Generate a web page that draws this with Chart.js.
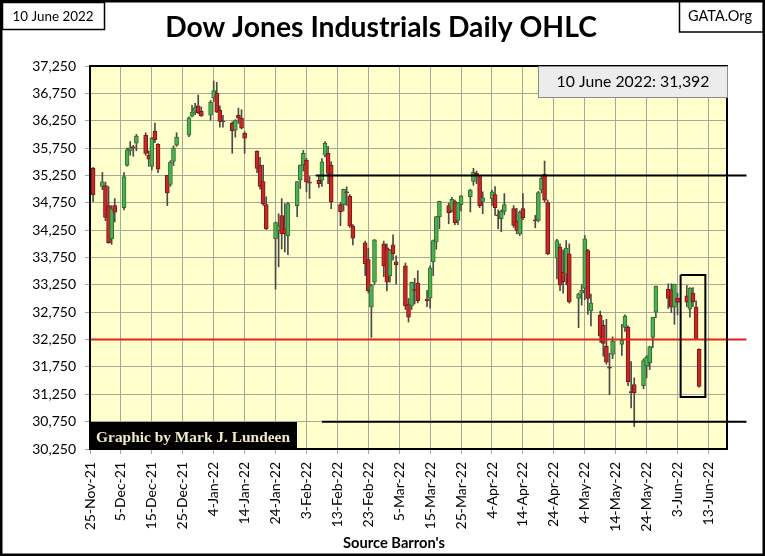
<!DOCTYPE html>
<html>
<head>
<meta charset="utf-8">
<script src="https://cdn.jsdelivr.net/npm/chart.js@4/dist/chart.umd.min.js"></script>
<style>
  html, body { margin: 0; padding: 0; background: #fff; }
</style>
</head>
<body>
<canvas id="myChart" width="765" height="556"></canvas>
<script>
// daily OHLC
const tradeDates = [
  "2021-11-26","2021-11-29","2021-11-30","2021-12-01","2021-12-02","2021-12-03",
  "2021-12-06","2021-12-07","2021-12-08","2021-12-09","2021-12-10",
  "2021-12-13","2021-12-14","2021-12-15","2021-12-16","2021-12-17",
  "2021-12-20","2021-12-21","2021-12-22","2021-12-23",
  "2021-12-27","2021-12-28","2021-12-29","2021-12-30","2021-12-31",
  "2022-01-03","2022-01-04","2022-01-05","2022-01-06","2022-01-07",
  "2022-01-10","2022-01-11","2022-01-12","2022-01-13","2022-01-14",
  "2022-01-18","2022-01-19","2022-01-20","2022-01-21",
  "2022-01-24","2022-01-25","2022-01-26","2022-01-27","2022-01-28",
  "2022-01-31","2022-02-01","2022-02-02","2022-02-03","2022-02-04",
  "2022-02-07","2022-02-08","2022-02-09","2022-02-10","2022-02-11",
  "2022-02-14","2022-02-15","2022-02-16","2022-02-17","2022-02-18",
  "2022-02-22","2022-02-23","2022-02-24","2022-02-25",
  "2022-02-28","2022-03-01","2022-03-02","2022-03-03","2022-03-04",
  "2022-03-07","2022-03-08","2022-03-09","2022-03-10","2022-03-11",
  "2022-03-14","2022-03-15","2022-03-16","2022-03-17","2022-03-18",
  "2022-03-21","2022-03-22","2022-03-23","2022-03-24","2022-03-25",
  "2022-03-28","2022-03-29","2022-03-30","2022-03-31","2022-04-01",
  "2022-04-04","2022-04-05","2022-04-06","2022-04-07","2022-04-08",
  "2022-04-11","2022-04-12","2022-04-13","2022-04-14",
  "2022-04-18","2022-04-19","2022-04-20","2022-04-21","2022-04-22",
  "2022-04-25","2022-04-26","2022-04-27","2022-04-28","2022-04-29",
  "2022-05-02","2022-05-03","2022-05-04","2022-05-05","2022-05-06",
  "2022-05-09","2022-05-10","2022-05-11","2022-05-12","2022-05-13",
  "2022-05-16","2022-05-17","2022-05-18","2022-05-19","2022-05-20",
  "2022-05-23","2022-05-24","2022-05-25","2022-05-26","2022-05-27",
  "2022-05-31","2022-06-01","2022-06-02","2022-06-03",
  "2022-06-06","2022-06-07","2022-06-08","2022-06-09","2022-06-10"
];
const opens = [
  35380,35050,35066,34698,34091,34698,
  34661,35434,35700,35760,35838,
  35985,35617,35415,36058,35819,
  35250,35084,35507,35801,
  35985,36334,36420,36520,36420,
  36352,36665,36757,36440,36250,
  36205,36076,36352,36297,36021,
  35690,35433,35139,34716,
  34091,34246,34514,34275,34147,
  34698,35163,35440,35530,35120,
  35160,35163,35620,35654,35440,
  34716,34716,34950,34870,34326,
  34018,33711,32842,33301,
  34000,33926,33412,33981,33669,
  33600,32897,32865,33172,33283,
  32992,33007,33669,34036,34496,
  34698,34612,34771,34428,34716,
  34863,35139,35290,35231,34777,
  34827,34900,34530,34459,34594,
  34643,34410,34183,34643,
  34440,34428,34980,35268,34753,
  33737,33939,33480,33448,33816,
  33002,33100,33185,33876,32773,
  32695,32510,32130,31740,31978,
  32161,32474,32474,31300,31426,
  31408,31770,31830,32290,32750,
  33172,33160,32842,33007,
  33050,32805,33099,32842,32070
];
const highs = [
  35400,35305,35130,35047,34700,34827,
  35300,35750,35870,35800,36000,
  36030,35700,35948,36205,35830,
  35250,35520,35790,36030,
  36320,36530,36570,36720,36500,
  36620,36977,36950,36520,36350,
  36230,36270,36480,36450,36050,
  35700,35580,35440,34860,
  34400,34550,34827,34735,34760,
  35140,35440,35710,35560,35230,
  35250,35560,35868,35780,35500,
  34760,35000,35040,34900,34350,
  34050,33920,33260,34080,
  34050,34000,33900,34165,33780,
  33650,33000,33300,33370,33510,
  33150,33600,34070,34500,34780,
  34750,34850,34800,34760,34880,
  35000,35380,35330,35250,34950,
  34980,35048,34620,34620,34918,
  34700,34650,34600,34918,
  34520,34960,35250,35513,34800,
  34080,34000,33890,34060,34000,
  33100,33250,34150,33900,33080,
  32770,32600,32620,32000,32300,
  32529,32700,32500,31850,31550,
  31900,31960,32130,32660,33228,
  33270,33270,33264,33100,
  33240,33200,33200,32957,32080
];
const lows = [
  34771,34990,34422,34010,33990,34400,
  34620,35420,35620,35600,35700,
  35620,35415,35350,35850,35300,
  34698,35050,35430,35780,
  35960,36320,36360,36380,36330,
  36260,36600,36400,36130,36130,
  35654,35950,36200,36100,35654,
  35300,35000,34700,34260,
  33172,33580,33908,33850,33800,
  34496,35010,35330,34950,34830,
  35030,35050,35590,35100,34643,
  34330,34600,34700,34300,33980,
  33420,33100,32290,33250,
  33400,33140,33300,33700,33264,
  32800,32570,32800,32900,32920,
  32850,32823,33417,33900,34275,
  34367,34580,34350,34350,34600,
  34582,35070,35100,34660,34551,
  34700,34520,34275,34220,34530,
  34300,34180,34150,34440,
  34293,34400,34930,34760,33800,
  33360,33142,33100,33250,32915,
  32468,32880,32975,32710,32498,
  32200,31946,31800,31242,31900,
  31960,32400,31408,31000,30660,
  31350,31550,31700,32100,32650,
  32818,32744,32529,32700,
  32850,32658,32850,32270,31380
];
const closes = [
  34899,35135,34483,34022,34640,34580,
  35227,35720,35755,35754,35971,
  35650,35545,35928,35898,35365,
  34932,35493,35754,35951,
  36302,36410,36488,36398,36338,
  36585,36799,36408,36236,36231,
  36068,36252,36297,36113,35930,
  35378,35047,34734,34275,
  34386,34327,34183,34183,34735,
  35139,35440,35654,35133,35110,
  35100,35500,35838,35287,34766,
  34588,34998,34934,34326,34105,
  33632,33142,33246,34073,
  33600,33301,33890,33815,33614,
  32865,32658,33296,33150,32957,
  32957,33559,34060,34496,34777,
  34570,34814,34386,34753,34876,
  34980,35305,35250,34698,34839,
  34950,34661,34510,34594,34716,
  34336,34244,34582,34472,
  34420,34937,35195,34796,33816,
  34060,33246,33309,33920,32940,
  33080,33150,34091,33001,32915,
  32314,32180,31836,31726,32222,
  32240,32676,31481,31279,31279,
  31868,31930,32120,32658,33228,
  33001,32842,33264,32930,
  32933,33190,32940,32272,31392
];

const xTickLabels = [
  "25-Nov-21","5-Dec-21","15-Dec-21","25-Dec-21","4-Jan-22","14-Jan-22",
  "24-Jan-22","3-Feb-22","13-Feb-22","23-Feb-22","5-Mar-22","15-Mar-22",
  "25-Mar-22","4-Apr-22","14-Apr-22","24-Apr-22","4-May-22","14-May-22",
  "24-May-22","3-Jun-22","13-Jun-22"
];
const startDate = "2021-11-25";
const yMin = 30250, yMax = 37250, yStep = 500;

// reference lines and the box around the last week
const resistanceLine = { from: "2022-02-06", to: "2022-06-19", value: 35250 };
const redLine = { from: "2021-11-25", to: "2022-06-19", value: 32250 };
const supportLine = { from: "2022-02-08", to: "2022-06-19", value: 30750 };
const boxDays = ["2022-06-04", "2022-06-12"];
const boxValues = [33430, 31200];

function dayNum(s) {
  const [y, m, d] = s.split("-").map(Number);
  const [y0, m0, d0] = startDate.split("-").map(Number);
  return (Date.UTC(y, m - 1, d) - Date.UTC(y0, m0 - 1, d0)) / 86400000;
}
const xs = tradeDates.map(dayNum);
const up = closes.map((c, i) => c >= opens[i]);

function hline(l) {
  // lines run a little past the plot on the right, like the original
  return [{ x: dayNum(l.from), y: l.value }, { x: dayNum(l.to) + 6.3, y: l.value }];
}

Chart.defaults.font.family = "Lato";
Chart.defaults.color = "#000";

const decor = {
  id: "decor",
  beforeDraw(chart) {
    const { ctx, chartArea: a } = chart;
    ctx.save();
    ctx.fillStyle = "#fff";
    ctx.fillRect(0, 0, chart.width, chart.height);
    ctx.fillStyle = "#FFFFCC";
    ctx.fillRect(a.left, a.top, a.right - a.left, a.bottom - a.top);
    ctx.restore();
  },
  afterDraw(chart) {
    const { ctx, chartArea: a } = chart;
    ctx.save();
    // plot border
    ctx.strokeStyle = "#000";
    ctx.lineWidth = 2;
    ctx.strokeRect(a.left, a.top, a.right - a.left, a.bottom - a.top);

    const fit = (text, weight, family, w, cx, base, color) => {
      ctx.font = `${weight} 20px ${family}`;
      const size = 20 * w / ctx.measureText(text).width;
      ctx.font = `${weight} ${size}px ${family}`;
      ctx.fillStyle = color;
      ctx.textAlign = "center";
      ctx.textBaseline = "alphabetic";
      ctx.fillText(text, cx, base);
    };

    // value box
    ctx.fillStyle = "#ececec";
    ctx.fillRect(538, a.top, a.right - 538, 31);
    ctx.strokeStyle = "#8c8c8c";
    ctx.lineWidth = 1;
    ctx.strokeRect(538.5, a.top + 0.5, a.right - 538, 31);
    fit("10 June 2022: 31,392", "normal", "Lato", 153, 633, 87, "#000");

    // credit box
    ctx.fillStyle = "#000";
    ctx.fillRect(a.left, 422, 207, a.bottom - 422);
    fit("Graphic by Mark J. Lundeen", "bold", '"Liberation Serif"', 194, 193, 441.5, "#f0e8c6");

    // header
    ctx.strokeStyle = "#000";
    ctx.lineWidth = 1.5;
    ctx.strokeRect(2.5, 2.5, 102, 27);
    fit("10 June 2022", "normal", "Lato", 81, 53, 21, "#000");
    ctx.strokeRect(679.5, 0, 84, 32);
    fit("GATA.Org", "normal", "Lato", 64, 720, 21, "#000");
    fit("Dow Jones Industrials Daily OHLC", "bold", "Lato", 432, 381, 37, "#000");
    fit("Source Barron's", "bold", "Lato", 102, 394, 548, "#000");

    // outer frame
    ctx.lineWidth = 5;
    ctx.strokeRect(0, 0, chart.width, chart.height);
    ctx.restore();
  }
};

new Chart(document.getElementById("myChart"), {
  type: "bar",
  data: {
    datasets: [
      {
        label: "High-Low",
        data: xs.map((x, i) => ({ x, y: [lows[i], highs[i]] })),
        backgroundColor: "#4a4a4a",
        barThickness: 1,
        grouped: false,
        order: 3
      },
      {
        label: "Open-Close",
        data: xs.map((x, i) => ({ x, y: [opens[i], closes[i]] })),
        backgroundColor: up.map(u => (u ? "#4caf50" : "#c62828")),
        borderColor: up.map(u => (u ? "#2d6e30" : "#7d1515")),
        borderWidth: 1,
        borderSkipped: false,
        barThickness: 4,
        minBarLength: 1,
        grouped: false,
        order: 2
      },
      {
        type: "line",
        label: "red",
        data: hline(redLine),
        borderColor: "#e8201c",
        borderWidth: 2,
        pointRadius: 0,
        clip: false,
        order: 1
      },
      {
        type: "line",
        label: "resistance",
        data: hline(resistanceLine),
        borderColor: "#000",
        borderWidth: 2,
        pointRadius: 0,
        clip: false,
        order: 1
      },
      {
        type: "line",
        label: "support",
        data: hline(supportLine),
        borderColor: "#000",
        borderWidth: 2,
        pointRadius: 0,
        clip: false,
        order: 1
      },
      {
        type: "line",
        label: "box",
        data: [
          { x: dayNum(boxDays[0]), y: boxValues[0] },
          { x: dayNum(boxDays[1]), y: boxValues[0] },
          { x: dayNum(boxDays[1]), y: boxValues[1] },
          { x: dayNum(boxDays[0]), y: boxValues[1] },
          { x: dayNum(boxDays[0]), y: boxValues[0] }
        ],
        borderColor: "#000",
        borderWidth: 2,
        pointRadius: 0,
        clip: false,
        order: 0
      }
    ]
  },
  options: {
    responsive: false,
    animation: false,
    devicePixelRatio: 1,
    layout: { padding: { left: 0, top: 66, right: 38, bottom: 0 } },
    plugins: { legend: { display: false }, tooltip: { enabled: false } },
    scales: {
      x: {
        type: "linear",
        min: 0,
        max: 206,
        offset: false,
        grid: { offset: false, color: "#a8a89a", tickLength: 5 },
        border: { color: "#000", width: 2 },
        ticks: {
          stepSize: 10,
          includeBounds: false,
          autoSkip: false,
          maxRotation: 90,
          minRotation: 90,
          padding: 8,
          font: { size: 14 },
          callback: v => xTickLabels[Math.round(v / 10)] || ""
        },
        afterFit: s => { s.height = 107; }
      },
      y: {
        min: yMin,
        max: yMax,
        beginAtZero: false,
        grid: { color: "#a8a89a", tickLength: 5 },
        border: { color: "#000", width: 2 },
        ticks: {
          stepSize: yStep,
          padding: 9,
          font: { size: 14 },
          callback: v => v.toLocaleString("en-US")
        },
        afterFit: s => { s.width = 90; }
      }
    }
  },
  plugins: [decor]
});
</script>
</body>
</html>
